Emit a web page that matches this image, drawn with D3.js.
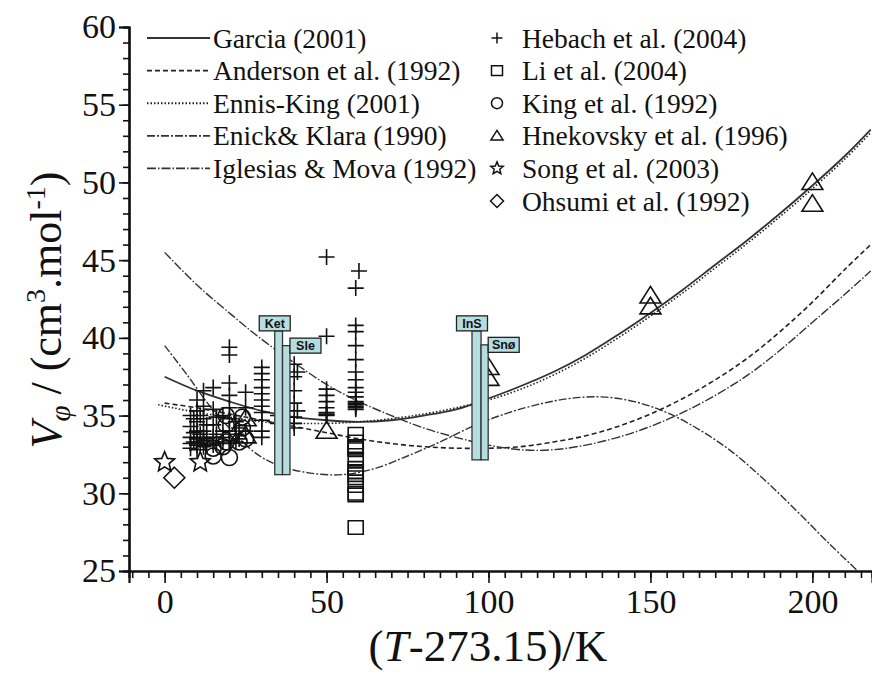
<!DOCTYPE html>
<html>
<head>
<meta charset="utf-8">
<script src="https://cdn.jsdelivr.net/npm/d3@7"></script>
<style>
  body { margin: 0; background: #fff; }
  svg text { font-family: "Liberation Serif", "Times New Roman", serif; fill: #111; }
</style>
</head>
<body>
<script>
// model curves
const garciaT = [0,10,20,30,40,50,60,70,80,90,100,110,120,130,140,150,160,170,180,190,200,210,218]
const garciaV = [37.5,36.6,35.9,35.3,34.9,34.7,34.6,34.7,35.0,35.4,36.1,36.9,37.8,38.9,40.2,41.6,43.1,44.7,46.3,48.0,49.8,51.7,53.4]

const andersonT = [0,10,20,30,40,50,60,70,80,90,100,110,120,130,140,150,160,170,180,190,200,210,218]
const andersonV = [35.8,35.5,35.1,34.7,34.3,33.9,33.5,33.2,33.0,32.9,32.9,33.0,33.3,33.7,34.3,35.1,36.1,37.3,38.7,40.4,42.3,44.4,46.0]

const ennisT = [-2,10,20,30,40,50,60,70,80,90,100,110,120,130,140,150,160,170,180,190,200,210,218]
const ennisV = [35.7,35.2,34.9,34.6,34.5,34.5,34.6,34.8,35.1,35.5,36.0,36.7,37.6,38.7,40.0,41.4,42.9,44.5,46.1,47.8,49.6,51.5,53.2]

const enickT = [0,7,14,20,28,35,45,55,65,75,85,95,105,115,125,135,145,155,165,175,185,195,205,214]
const enickV = [39.5,37.6,35.6,34.2,32.6,31.8,31.3,31.2,31.6,32.4,33.3,34.3,35.1,35.7,36.1,36.2,35.9,35.2,34.1,32.7,30.9,28.9,26.8,25.0]

const iglesiasT = [0,10,20,30,40,50,60,70,80,90,100,110,120,130,140,150,160,170,180,190,200,210,218]
const iglesiasV = [45.5,43.4,41.6,39.9,38.4,37.0,35.9,35.0,34.2,33.6,33.1,32.8,32.8,33.1,33.6,34.3,35.2,36.3,37.6,39.2,41.0,42.8,44.3]

// experimental data
const hebachT = [8,8,8,8,8, 9,9,9, 10,10,10,10,10,10,10,10, 11,11,11, 12,12,12,12,12,12,12, 13,13,13,
  15,15,15,15,15,15, 16,16,16, 18,18,18,18, 20,20,20,20,20,20,20,20,20, 22,22,22, 23,23, 25,25,25,
  30,30,30,30,30,30,30,30,30,30,30, 35,35, 40,40,40,40,40,40,40, 41,41,
  50,50,50,50,50,50,50,50,50,50,
  59,59,59,59,59,59,59,59,59,59,59,59,59,59,59,59, 60]
const hebachV = [35.0,34.3,33.6,33.2,32.9, 34.8,33.9,33.3, 36.0,35.3,34.6,34.0,33.5,33.1,32.8,33.3, 35.0,33.8,33.2, 36.6,35.6,34.8,34.0,33.4,33.0,33.6, 34.4,33.5,33.1,
  36.8,35.4,34.4,33.6,33.1,33.3, 34.9,33.8,33.2, 35.0,34.0,33.3,33.6, 39.4,38.9,37.1,36.3,35.5,34.8,34.0,33.4,33.2, 34.6,33.8,33.3, 34.2,33.5, 36.5,35.5,34.0,
  38.1,37.7,37.3,36.8,36.4,36.0,35.6,35.2,34.7,34.0,33.6, 35.0,34.5, 38.3,37.5,36.6,35.8,34.9,34.5,34.2, 37.8,35.3,
  45.2,40.1,36.7,36.3,35.9,35.5,35.2,35.1,35.05,35.0,
  43.2,40.8,40.4,39.5,38.6,37.8,37.3,36.8,36.5,36.2,35.9,35.8,35.7,35.6,35.5,35.4, 44.3]

const liT = [59,59,59,59,59,59,59,59,59,59,59,59,59,59]
const liV = [33.8,33.3,33.0,32.9,32.8,32.2,31.6,31.4,31.2,31.0,30.5,30.0,29.9,27.8]

const kingT = [15,15,18,19,19,19,20,23,24,24,25]
const kingV = [32.9,32.4,33.0,35.0,34.4,33.3,32.3,33.3,34.9,34.2,33.5]

const hnekT = [25,25,50,100,100,150,150,200,200]
const hnekV = [34.8,33.7,34.0,38.1,37.4,42.7,42.0,50.0,48.6]

const songT = [0,11]
const songV = [32.0,32.0]

const ohsumiT = [3]
const ohsumiV = [31.0]

// site ranges drawn as bars
const siteNames = ["Ket","Sle","InS","Snø"]
const siteTmin = [34.0,36.4,94.9,97.7]
const siteTmax = [36.4,38.7,97.7,99.9]
const siteVtop = [40.45,39.5,40.45,39.55]
const siteVbot = [31.2,31.2,32.15,32.15]

const xTicks = [0,50,100,150,200]
const yTicks = [25,30,35,40,45,50,55,60]

const width = 872
const height = 680

const svg = d3.select("body").append("svg")
    .attr("width", width)
    .attr("height", height)
    .style("background", "#fff")

const x = d3.scaleLinear().domain([-11, 218.4]).range([129, 872])
const y = d3.scaleLinear().domain([25, 60]).range([571, 27])

svg.append("defs").append("clipPath").attr("id", "plot")
  .append("rect").attr("x", 129).attr("y", 20).attr("width", 743).attr("height", 551)

// axes
const minorX = d3.range(-10, 219, 5)
const minorY = d3.range(25, 61, 1)

svg.append("g")
    .attr("transform", "translate(0,571)")
    .call(d3.axisBottom(x).tickValues(minorX).tickSize(7).tickFormat(""))
svg.append("g")
    .attr("transform", "translate(0,571)")
    .call(d3.axisBottom(x).tickValues(xTicks).tickSize(12).tickPadding(6).tickFormat(d3.format("d")))
svg.append("g")
    .attr("transform", "translate(129,0)")
    .call(d3.axisLeft(y).tickValues(minorY).tickSize(6).tickFormat(""))
svg.append("g")
    .attr("transform", "translate(129,0)")
    .call(d3.axisLeft(y).tickValues(yTicks).tickSize(10).tickPadding(3).tickFormat(d3.format("d")))

svg.selectAll(".domain").attr("stroke", "#111").attr("stroke-width", 2.2)
svg.selectAll(".tick line").attr("stroke", "#111").attr("stroke-width", 1.6)
svg.selectAll(".tick text")
    .style("font-family", "'Liberation Serif', 'Times New Roman', serif")
    .style("font-size", "34px")
    .attr("fill", "#111")

// axis titles
const xt = svg.append("text")
    .attr("x", 488).attr("y", 661)
    .attr("text-anchor", "middle")
    .style("font-size", "45px")
xt.append("tspan").text("(")
xt.append("tspan").style("font-style", "italic").text("T")
xt.append("tspan").text("-273.15)/K")

const yt = svg.append("text")
    .attr("transform", "translate(61,310) rotate(-90)")
    .attr("text-anchor", "middle")
    .style("font-size", "44px")
yt.append("tspan").style("font-style", "italic").text("V")
yt.append("tspan").style("font-style", "italic").style("font-size", "29px").attr("dy", 9).text("φ")
yt.append("tspan").attr("dy", -9).text(" / (cm")
yt.append("tspan").style("font-size", "28px").attr("dy", -16).text("3")
yt.append("tspan").attr("dy", 16).text(".mol")
yt.append("tspan").style("font-size", "28px").attr("dy", -16).text("-1")
yt.append("tspan").attr("dy", 16).text(")")

// curves
const models = [
  {name: "Garcia (2001)", t: garciaT, v: garciaV, dash: null, w: 1.8, color: "#333"},
  {name: "Anderson et al. (1992)", t: andersonT, v: andersonV, dash: "5,3", w: 1.6, color: "#222"},
  {name: "Ennis-King (2001)", t: ennisT, v: ennisV, dash: "1.5,2", w: 1.6, color: "#222"},
  {name: "Enick& Klara (1990)", t: enickT, v: enickV, dash: "8,2,2,2", w: 1.4, color: "#333"},
  {name: "Iglesias & Mova (1992)", t: iglesiasT, v: iglesiasV, dash: "9,2,1.5,2", w: 1.4, color: "#333"}
]

const line = d3.line()
    .x(d => x(d[0]))
    .y(d => y(d[1]))
    .curve(d3.curveCatmullRom)

const curves = svg.append("g").attr("clip-path", "url(#plot)")
models.forEach(m => {
  curves.append("path")
    .attr("d", line(m.t.map((t, i) => [t, m.v[i]])))
    .attr("fill", "none")
    .attr("stroke", m.color)
    .attr("stroke-width", m.w)
    .attr("stroke-dasharray", m.dash)
})

// marker shapes
function markerPath(kind, s) {
  const p = d3.path()
  if (kind === "plus") {
    p.moveTo(-s, 0); p.lineTo(s, 0); p.moveTo(0, -s); p.lineTo(0, s)
  } else if (kind === "square") {
    p.rect(-s, -s * 0.9, 2 * s, 1.8 * s)
  } else if (kind === "circle") {
    p.arc(0, 0, s, 0, 2 * Math.PI)
  } else if (kind === "triangle") {
    p.moveTo(0, -s * 1.0); p.lineTo(s * 1.1, s * 0.75); p.lineTo(-s * 1.1, s * 0.75); p.closePath()
  } else if (kind === "star") {
    for (let i = 0; i < 10; i++) {
      const r = i % 2 ? s * 0.45 : s
      const a = -Math.PI / 2 + i * Math.PI / 5
      if (i === 0) p.moveTo(r * Math.cos(a), r * Math.sin(a))
      else p.lineTo(r * Math.cos(a), r * Math.sin(a))
    }
    p.closePath()
  } else if (kind === "diamond") {
    p.moveTo(0, -s); p.lineTo(s, 0); p.lineTo(0, s); p.lineTo(-s, 0); p.closePath()
  }
  return p.toString()
}

const sets = [
  {name: "Hebach et al. (2004)", t: hebachT, v: hebachV, kind: "plus", s: 8},
  {name: "Li et al. (2004)", t: liT, v: liV, kind: "square", s: 7.5},
  {name: "King et al. (1992)", t: kingT, v: kingV, kind: "circle", s: 8},
  {name: "Hnekovsky et al. (1996)", t: hnekT, v: hnekV, kind: "triangle", s: 9.5},
  {name: "Song et al. (2003)", t: songT, v: songV, kind: "star", s: 10.5},
  {name: "Ohsumi et al. (1992)", t: ohsumiT, v: ohsumiV, kind: "diamond", s: 10.5}
]

const marks = svg.append("g")
sets.forEach(st => {
  marks.selectAll(null)
    .data(st.t.map((t, i) => [t, st.v[i]]))
    .enter()
    .append("path")
    .attr("transform", d => `translate(${x(d[0])},${y(d[1])})`)
    .attr("d", markerPath(st.kind, st.s))
    .attr("fill", "none")
    .attr("stroke", "#111")
    .attr("stroke-width", 1.6)
})

// site bars and labels
const sites = siteNames.map((n, i) => ({name: n, t0: siteTmin[i], t1: siteTmax[i], top: siteVtop[i], bot: siteVbot[i], i: i}))
const siteG = svg.append("g")
siteG.selectAll("rect.bar")
  .data(sites)
  .enter()
  .append("rect")
  .attr("class", "bar")
  .attr("x", d => x(d.t0))
  .attr("y", d => y(d.top))
  .attr("width", d => x(d.t1) - x(d.t0))
  .attr("height", d => y(d.bot) - y(d.top))
  .attr("fill", "#b5dde0")
  .attr("stroke", "#333")
  .attr("stroke-width", 1.3)

const labW = 31, labH = 15
sites.forEach(d => {
  let lx, ly
  if (d.i % 2 === 0) {
    lx = x(d.t0) - labW / 2
    ly = y(d.top) - labH
  } else {
    lx = x(d.t1)
    ly = y(d.top) - labH / 2
  }
  siteG.append("rect")
    .attr("x", lx).attr("y", ly)
    .attr("width", labW).attr("height", labH)
    .attr("fill", "#b5dde0")
    .attr("stroke", "#222")
    .attr("stroke-width", 1.3)
  siteG.append("text")
    .attr("x", lx + labW / 2).attr("y", ly + labH / 2 + 4.5)
    .attr("text-anchor", "middle")
    .style("font-family", "'Liberation Sans', Arial, sans-serif")
    .style("font-weight", "bold")
    .style("font-size", "12.5px")
    .text(d.name)
})

// legend
const rowY = d3.range(6).map(i => 38 + i * 32.6)
const leg1 = svg.append("g")
models.forEach((m, i) => {
  leg1.append("line")
    .attr("x1", 147).attr("x2", 210)
    .attr("y1", rowY[i]).attr("y2", rowY[i])
    .attr("stroke", m.color)
    .attr("stroke-width", m.w + 0.3)
    .attr("stroke-dasharray", m.dash)
  leg1.append("text")
    .attr("x", 213).attr("y", rowY[i] + 9.5)
    .style("font-size", "27.5px")
    .text(m.name)
})
const leg2 = svg.append("g")
sets.forEach((st, i) => {
  leg2.append("path")
    .attr("transform", `translate(497,${rowY[i]})`)
    .attr("d", markerPath(st.kind, st.kind === "star" || st.kind === "diamond" ? 6.5 : 5.5))
    .attr("fill", "none")
    .attr("stroke", "#111")
    .attr("stroke-width", 1.5)
  leg2.append("text")
    .attr("x", 522).attr("y", rowY[i] + 9.5)
    .style("font-size", "27.5px")
    .text(st.name)
})
</script>
</body>
</html>
